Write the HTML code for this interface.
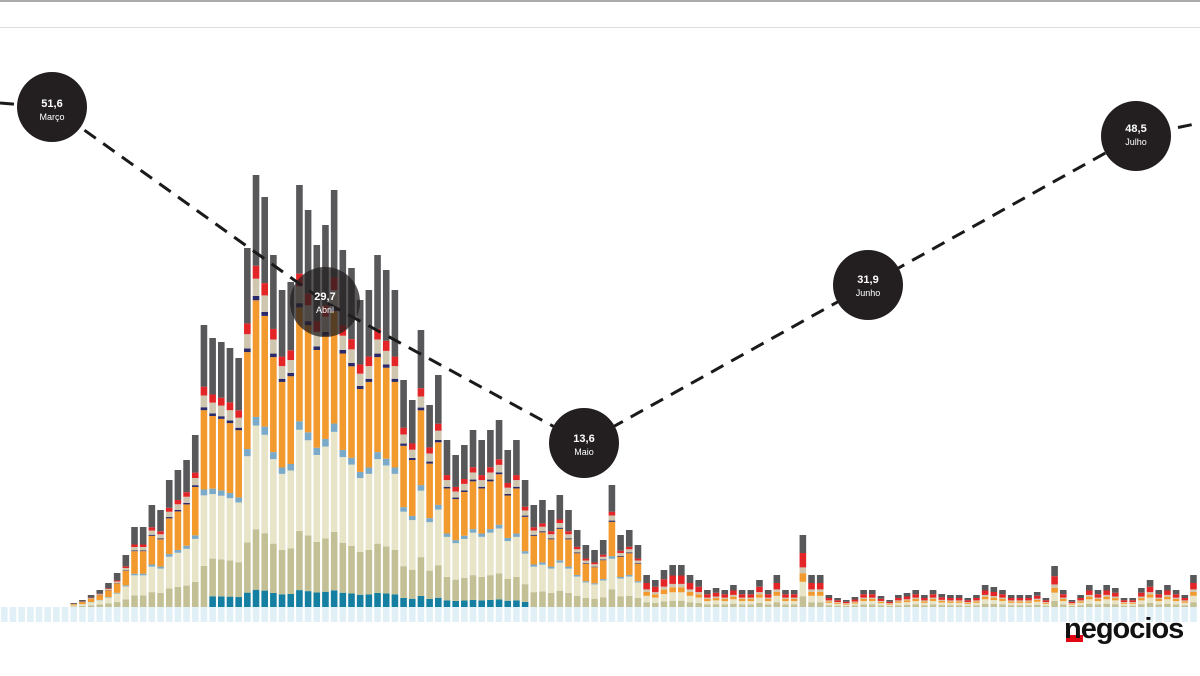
<!DOCTYPE html>
<html><head><meta charset="utf-8"><style>
html,body{margin:0;padding:0;background:#fff;width:1200px;height:676px;overflow:hidden}
svg{display:block}
</style></head><body>
<svg id="s" width="1200" height="676" viewBox="0 0 1200 676" xmlns="http://www.w3.org/2000/svg">
<rect x="0" y="0" width="1200" height="2" fill="#aaa"/>
<rect x="0" y="27" width="1200" height="1" fill="#ddd"/>
<g id="bars"></g>
<polyline points="0,103 52,107 325,302 584,443 868,285 1136,136 1200,123" fill="none" stroke="#1a1a1a" stroke-width="3" stroke-dasharray="14,9"/>
<g font-family="Liberation Sans, sans-serif" text-anchor="middle" fill="#fff">
<circle cx="52" cy="107" r="35" fill="#231f20"/><text x="52" y="107" font-size="11" font-weight="bold">51,6</text><text x="52" y="120" font-size="9">Março</text>
<circle cx="325" cy="302" r="35" fill="#231f20" fill-opacity="0.75"/><text x="325" y="300" font-size="11" font-weight="bold">29,7</text><text x="325" y="313" font-size="9">Abril</text>
<circle cx="584" cy="443" r="35" fill="#231f20"/><text x="584" y="442" font-size="11" font-weight="bold">13,6</text><text x="584" y="455" font-size="9">Maio</text>
<circle cx="868" cy="285" r="35" fill="#231f20"/><text x="868" y="283" font-size="11" font-weight="bold">31,9</text><text x="868" y="296" font-size="9">Junho</text>
<circle cx="1136" cy="136" r="35" fill="#231f20"/><text x="1136" y="132" font-size="11" font-weight="bold">48,5</text><text x="1136" y="145" font-size="9">Julho</text>
</g>
<rect x="1066" y="635" width="17" height="7" fill="#e30613"/>
<text x="1064" y="638" font-family="Liberation Sans, sans-serif" font-size="29" font-weight="bold" fill="#111" letter-spacing="-1">negocios</text>
</svg>
<script>
var tops=[614,613,613,612,610,610,609,608,603,600,595,590,583,573,555,527,527,505,510,480,470,460,435,325,338,342,348,358,248,175,197,255,290,282,185,210,245,225,190,250,268,300,290,255,270,290,380,400,330,405,375,440,455,445,430,440,430,420,450,440,480,505,500,510,495,510,530,545,550,540,485,535,530,545,575,580,570,565,565,575,580,590,588,590,585,590,590,580,590,575,590,590,535,575,575,595,598,600,597,590,590,596,600,595,593,590,595,590,594,595,595,598,595,585,587,590,595,595,595,592,598,566,590,600,595,585,590,585,588,598,598,588,580,590,585,590,595,575];
var g=document.getElementById('bars'),B=607,p=8.68,w=6.6,out='';
function r(x,y,h,c,o){if(h<=0)return;out+='<rect x="'+x.toFixed(2)+'" y="'+y.toFixed(2)+'" width="'+w+'" height="'+h.toFixed(2)+'" fill="'+c+'"'+(o?' fill-opacity="'+o+'"':'')+'/>';}
for(var i=0;i<tops.length;i++){
 var x=i*p+1,t=tops[i];
 r(x,B,15,'#c9e3ee',0.55);
 if(t>=607){r(x,t,B-t,'#f3dcc0');continue;}
 var h=B-t,f;
 if(x<640) f=[['#147fa0',i>=24&&i<=60?0.04:0],['#c4c096',0.14],['#e7e4c8',0.24],['#7aaac8',0.02],['#f39a2e',0.27],['#2a2a6a',0.01],['#cfc6b0',0.04],['#e42528',0.03],['#58585a',0.21]];
 else f=[['#c4c096',0.15],['#e7e4c8',0.2],['#f39a2e',0.12],['#cfc6b0',0.08],['#e42528',0.2],['#58585a',0.25]];
 var s=0;f.forEach(function(a){s+=a[1]});
 var y=B;f.forEach(function(a){var hh=h*a[1]/s;y-=hh;r(x,y,hh,a[0]);});
}
g.innerHTML=out;
</script>
</body></html>
